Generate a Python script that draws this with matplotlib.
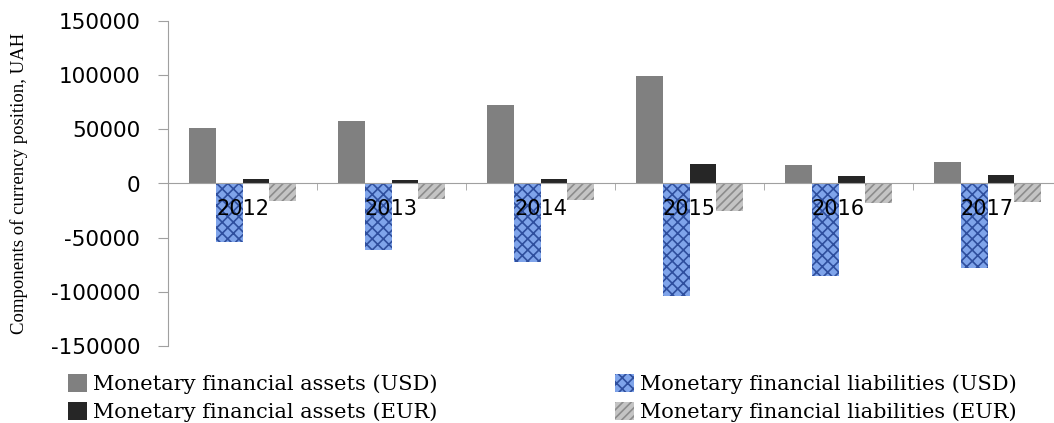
import numpy as np
import matplotlib
matplotlib.use('Agg')
import matplotlib.pyplot as plt

years = ['2012', '2013', '2014', '2015', '2016', '2017']
assets_usd = [51000, 58000, 72000, 99000, 17000, 20000]
liab_usd = [-54000, -61000, -72000, -104000, -85000, -78000]
assets_eur = [4500, 3500, 3700, 18000, 6700, 7400]
liab_eur = [-16500, -14700, -15500, -25500, -17800, -17200]
labels = ['Monetary financial assets (USD)', 'Monetary financial assets (EUR)',
          'Monetary financial liabilities (USD)', 'Monetary financial liabilities (EUR)']

plt.rcParams['hatch.linewidth'] = 1.2
plt.rcParams['axes.unicode_minus'] = False
fig = plt.figure(figsize=(10.54, 4.23), dpi=100)
ax = fig.add_axes([168/1054, 1-346/423, 894/1054, 325/423])

x = np.arange(len(years))
w = 0.181
b1 = ax.bar(x - 1.5*w, assets_usd, w, color='#808080', lw=0)
b2 = ax.bar(x - 0.5*w, liab_usd, w, facecolor='#7fa4ea', edgecolor='#2f4f9e',
            hatch='xxx', lw=0)
b3 = ax.bar(x + 0.5*w, assets_eur, w, color='#262626', lw=0)
b4 = ax.bar(x + 1.5*w, liab_eur, w, facecolor='#c4c4c4', edgecolor='#8c8c8c',
            hatch='////', lw=0)

ax.set_xlim(-0.5, 5.5)
ax.set_ylim(-150000, 150000)
ax.set_yticks(np.arange(-150000, 150001, 50000))
ax.tick_params(axis='y', labelsize=15.5, length=7, color='#a0a0a0', pad=13)
for s in ['top', 'right']:
    ax.spines[s].set_visible(False)
ax.spines['left'].set_color('#a0a0a0')
ax.spines['bottom'].set_position(('data', 0))
ax.spines['bottom'].set_color('#a0a0a0')

ax.set_xticks(x)
ax.set_xticklabels(years)
ax.set_xticks(np.arange(0.5, 5.5, 1), minor=True)
ax.tick_params(axis='x', which='major', length=0, labelsize=15, pad=11)
ax.tick_params(axis='x', which='minor', length=5, color='#a0a0a0')

ax.set_ylabel('Components of currency position, UAH', family='Liberation Serif',
              fontsize=13.5)
ax.yaxis.set_label_coords(-140/894, 0.5)

fig.legend([b1, b3, b2, b4], labels, ncol=2, loc='upper left',
           bbox_to_anchor=(60/1054, 1-366/423), frameon=False,
           prop={'family': 'DejaVu Serif', 'size': 15}, handlelength=0.9,
           handleheight=0.9, handletextpad=0.3, labelspacing=0.4,
           columnspacing=8.5, borderaxespad=0)

fig.savefig('out.png', dpi=100)
